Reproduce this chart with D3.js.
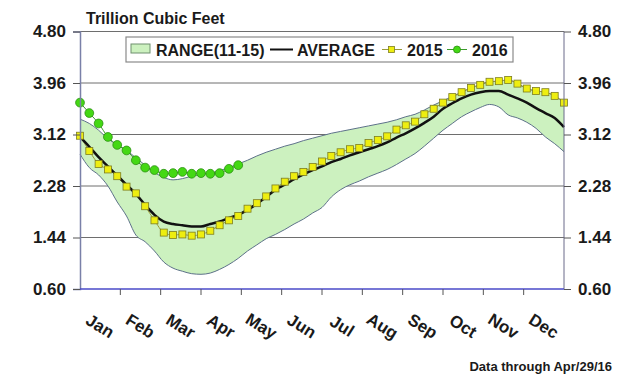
<!DOCTYPE html>
<html>
<head>
<meta charset="utf-8">
<script src="https://cdn.jsdelivr.net/npm/d3@7"></script>
<style>
body { margin: 0; background: #fff; }
text { font-family: "Liberation Sans", Arial, sans-serif; font-weight: bold; fill: #1a1a1a; }
</style>
</head>
<body>
<svg id="chart" width="644" height="392"></svg>
<script>
var months = ["Jan","Feb","Mar","Apr","May","Jun","Jul","Aug","Sep","Oct","Nov","Dec"];
var yTicks = [0.60, 1.44, 2.28, 3.12, 3.96, 4.80];

// weekly values, week 0..52
var rangeHigh = [3.37,3.30,3.19,3.05,2.95,2.86,2.74,2.62,2.50,2.42,2.38,2.40,2.44,2.47,2.49,2.53,2.58,2.64,2.70,2.77,
    2.83,2.88,2.93,2.97,3.02,3.06,3.10,3.14,3.17,3.20,3.23,3.26,3.29,3.32,3.36,3.41,3.45,3.52,3.60,3.67,
    3.74,3.81,3.88,3.93,3.98,3.99,4.01,3.95,3.87,3.83,3.81,3.75,3.64];
var rangeLow = [2.80,2.58,2.46,2.28,2.02,1.79,1.48,1.37,1.22,1.04,0.94,0.89,0.85,0.84,0.86,0.92,1.00,1.10,1.22,1.32,
    1.42,1.49,1.57,1.66,1.74,1.84,1.93,2.10,2.22,2.30,2.36,2.43,2.49,2.55,2.63,2.72,2.81,2.93,3.06,3.19,
    3.30,3.41,3.49,3.56,3.61,3.57,3.44,3.39,3.32,3.22,3.08,2.97,2.84];
var average = [3.08,2.92,2.75,2.60,2.45,2.30,2.15,1.97,1.81,1.70,1.66,1.64,1.62,1.62,1.66,1.70,1.76,1.81,1.89,1.99,
    2.10,2.22,2.30,2.39,2.47,2.54,2.60,2.67,2.72,2.78,2.83,2.88,2.93,2.99,3.07,3.14,3.22,3.31,3.41,3.54,
    3.63,3.71,3.77,3.81,3.83,3.83,3.77,3.71,3.64,3.55,3.47,3.39,3.24];
var y2015 = [3.10,2.85,2.64,2.55,2.44,2.27,2.16,1.95,1.72,1.52,1.48,1.49,1.47,1.49,1.55,1.64,1.72,1.79,1.91,2.00,
    2.11,2.24,2.35,2.44,2.51,2.59,2.68,2.77,2.83,2.88,2.90,2.98,3.03,3.09,3.20,3.27,3.33,3.45,3.54,3.64,
    3.73,3.81,3.88,3.93,3.98,3.99,4.01,3.95,3.87,3.83,3.81,3.75,3.64];
var y2016 = [3.64,3.47,3.30,3.08,2.95,2.86,2.70,2.58,2.54,2.48,2.49,2.51,2.48,2.49,2.48,2.49,2.56,2.62];

var svg = d3.select("#chart");
var plotLeft = 80, plotRight = 564, plotTop = 31.5, plotBottom = 289;

var x = d3.scaleLinear().domain([0, 52]).range([plotLeft, plotRight]);
var xMonth = d3.scaleBand().domain(months).range([plotLeft, plotRight]);
var y = d3.scaleLinear().domain([0.6, 4.8]).range([plotBottom, plotTop]);

// gridlines
svg.append("g")
    .selectAll("line")
    .data(yTicks.slice(1))
    .enter()
    .append("line")
    .attr("x1", plotLeft)
    .attr("x2", plotRight)
    .attr("y1", function(d) { return y(d); })
    .attr("y2", function(d) { return y(d); })
    .attr("stroke", "#6e6e6e")
    .attr("stroke-width", 1);

// range band
var area = d3.area()
    .x(function(d, i) { return x(i); })
    .y0(function(d, i) { return y(rangeLow[i]); })
    .y1(function(d) { return y(d); })
    .curve(d3.curveMonotoneX);

svg.append("path")
    .datum(rangeHigh)
    .attr("d", area)
    .attr("fill", "#ccf1bf");

var line = d3.line()
    .x(function(d, i) { return x(i); })
    .y(function(d) { return y(d); })
    .curve(d3.curveMonotoneX);

svg.append("path").datum(rangeHigh).attr("d", line)
    .attr("fill", "none").attr("stroke", "#5d7189").attr("stroke-width", 1);
svg.append("path").datum(rangeLow).attr("d", line)
    .attr("fill", "none").attr("stroke", "#5d7189").attr("stroke-width", 1);

// 2015
svg.append("path").datum(y2015).attr("d", line)
    .attr("fill", "none").attr("stroke", "#9a9a3a").attr("stroke-width", 1);

// average
svg.append("path").datum(average).attr("d", line)
    .attr("fill", "none").attr("stroke", "#111").attr("stroke-width", 2.5);

svg.append("g")
    .selectAll("rect")
    .data(y2015)
    .enter()
    .append("rect")
    .attr("x", function(d, i) { return x(i) - 3.5; })
    .attr("y", function(d) { return y(d) - 3.5; })
    .attr("width", 7)
    .attr("height", 7)
    .attr("fill", "#eeee10")
    .attr("stroke", "#7d7d20")
    .attr("stroke-width", 0.8);

// 2016
svg.append("path").datum(y2016).attr("d", line)
    .attr("fill", "none").attr("stroke", "#3a9a2a").attr("stroke-width", 1);

svg.append("g")
    .selectAll("circle")
    .data(y2016)
    .enter()
    .append("circle")
    .attr("cx", function(d, i) { return x(i); })
    .attr("cy", function(d) { return y(d); })
    .attr("r", 4.4)
    .attr("fill", "#44d814")
    .attr("stroke", "#2a8f10")
    .attr("stroke-width", 0.8);

// frame
svg.append("line").attr("x1", plotLeft).attr("x2", plotRight).attr("y1", y(4.8)).attr("y2", y(4.8))
    .attr("stroke", "#6e6e6e");
svg.append("line").attr("x1", plotRight).attr("x2", plotRight).attr("y1", y(4.8)).attr("y2", plotBottom)
    .attr("stroke", "#6a6a8a");

// axes
var yLeft = d3.axisLeft(y).tickValues(yTicks).tickSize(7).tickFormat(d3.format(".2f"));
var yRight = d3.axisRight(y).tickValues(yTicks).tickSize(7).tickFormat(d3.format(".2f"));

var gl = svg.append("g").attr("transform", "translate(" + plotLeft + ",0)").call(yLeft);
var gr = svg.append("g").attr("transform", "translate(" + plotRight + ",0)").call(yRight);
[gl, gr].forEach(function(g) {
    g.select(".domain").attr("stroke", "#7a80a8").attr("stroke-width", 1.5);
    g.selectAll(".tick line").attr("stroke", "#555");
    g.selectAll(".tick text").style("font-size", "17px").attr("fill", "#1a1a1a");
});
gl.selectAll(".tick text").attr("x", -14);
gr.selectAll(".tick text").attr("x", 14);
gr.select(".domain").remove();

// month axis with ticks at month edges
var gx = svg.append("g").attr("transform", "translate(0," + plotBottom + ")");
gx.append("line").attr("x1", plotLeft).attr("x2", plotRight)
    .attr("stroke", "#4a4ac8").attr("stroke-width", 1.5);
gx.selectAll("line.tick")
    .data(months.slice(1))
    .enter()
    .append("line")
    .attr("class", "tick")
    .attr("x1", function(d) { return xMonth(d); })
    .attr("x2", function(d) { return xMonth(d); })
    .attr("y1", 0)
    .attr("y2", 6)
    .attr("stroke", "#555");
gx.selectAll("text")
    .data(months)
    .enter()
    .append("text")
    .attr("transform", function(d) {
        var cx = xMonth(d) + xMonth.bandwidth() / 2;
        return "translate(" + cx + ",37) rotate(32)";
    })
    .attr("text-anchor", "middle")
    .attr("dy", "0.35em")
    .style("font-size", "17px")
    .text(function(d) { return d; });

// title and note
svg.append("text").attr("x", 86).attr("y", 24).style("font-size", "16px").text("Trillion Cubic Feet");
svg.append("text").attr("x", 612).attr("y", 371).attr("text-anchor", "end")
    .style("font-size", "13px").text("Data through Apr/29/16");

// legend
var lg = svg.append("g");
lg.append("rect").attr("x", 126).attr("y", 37).attr("width", 387).attr("height", 25)
    .attr("fill", "#fff").attr("stroke", "#8a8a8a").attr("stroke-width", 1.2);
lg.append("rect").attr("x", 131).attr("y", 44).attr("width", 19).attr("height", 9)
    .attr("fill", "#ccf1bf").attr("stroke", "#6f8f6f");
lg.append("text").attr("x", 156).attr("y", 56).style("font-size", "16px").text("RANGE(11-15)");
lg.append("line").attr("x1", 270).attr("x2", 293).attr("y1", 49.5).attr("y2", 49.5)
    .attr("stroke", "#111").attr("stroke-width", 2);
lg.append("text").attr("x", 297).attr("y", 56).style("font-size", "16px").text("AVERAGE");
lg.append("line").attr("x1", 382).attr("x2", 402).attr("y1", 49.5).attr("y2", 49.5)
    .attr("stroke", "#9a9a3a");
lg.append("rect").attr("x", 388.5).attr("y", 46.5).attr("width", 6).attr("height", 6)
    .attr("fill", "#eeee10").attr("stroke", "#7d7d20").attr("stroke-width", 0.8);
lg.append("text").attr("x", 407).attr("y", 56).style("font-size", "16px").text("2015");
lg.append("line").attr("x1", 447).attr("x2", 467).attr("y1", 49.5).attr("y2", 49.5)
    .attr("stroke", "#3a9a2a");
lg.append("circle").attr("cx", 457).attr("cy", 49.5).attr("r", 3.5)
    .attr("fill", "#44d814").attr("stroke", "#2a8f10").attr("stroke-width", 0.8);
lg.append("text").attr("x", 472).attr("y", 56).style("font-size", "16px").text("2016");
</script>
</body>
</html>
